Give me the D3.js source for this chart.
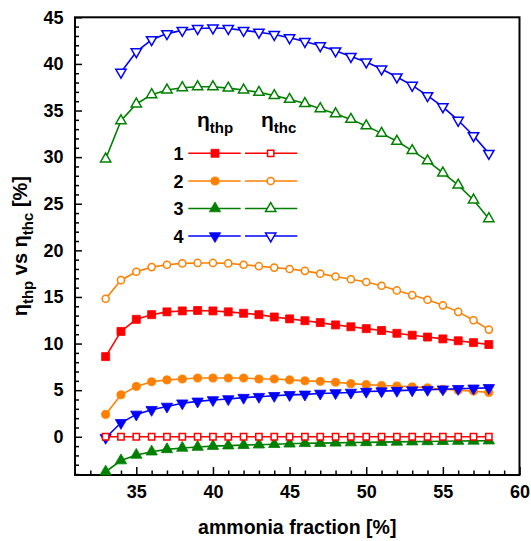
<!DOCTYPE html>
<html>
<head>
<meta charset="utf-8">
<script src="https://cdn.jsdelivr.net/npm/d3@7"></script>
<style>
  html, body { margin: 0; padding: 0; background: #fff; }
  svg text { font-family: "Liberation Sans", Arial, sans-serif; font-weight: bold; fill: #000; }
</style>
</head>
<body>
<svg id="chart" width="531" height="541"></svg>
<script>
// Ammonia fraction [%]
const fraction = [33,34,35,36,37,38,39,40,41,42,43,44,45,46,47,48,49,50,51,52,53,54,55,56,57,58];

// eta_thp series (filled markers)
const thp1 = [8.6,11.3,12.6,13.1,13.4,13.5,13.55,13.5,13.4,13.25,13.1,12.85,12.65,12.45,12.25,12.0,11.8,11.6,11.4,11.1,10.9,10.7,10.5,10.3,10.1,9.9];
const thp2 = [2.4,4.5,5.4,5.9,6.1,6.2,6.3,6.3,6.3,6.3,6.2,6.2,6.1,6.0,5.95,5.85,5.7,5.6,5.5,5.45,5.35,5.25,5.1,5.0,4.9,4.75];
const thp3 = [-3.75,-2.55,-1.95,-1.6,-1.35,-1.2,-1.1,-1.0,-0.95,-0.9,-0.85,-0.8,-0.75,-0.7,-0.68,-0.65,-0.62,-0.6,-0.57,-0.55,-0.52,-0.5,-0.48,-0.46,-0.44,-0.42];
const thp4 = [-0.1,1.5,2.4,2.9,3.25,3.6,3.8,3.95,4.05,4.2,4.3,4.4,4.5,4.55,4.65,4.7,4.75,4.85,4.9,4.95,5.0,5.05,5.1,5.15,5.2,5.25];

// eta_thc series (open markers); series 4 starts at 34 %
const thc1 = [0,0,0,0,0,0,0,0,0,0,0,0,0,0,0,0,0,0,0,0,0,0,0,0,0,0];
const thc2 = [14.8,16.8,17.7,18.2,18.45,18.6,18.65,18.65,18.6,18.45,18.3,18.15,18.0,17.8,17.5,17.2,16.9,16.6,16.2,15.7,15.2,14.7,14.1,13.4,12.5,11.5];
const thc3 = [29.8,33.9,35.7,36.7,37.2,37.45,37.55,37.55,37.4,37.2,36.95,36.6,36.2,35.75,35.2,34.65,34.05,33.35,32.55,31.7,30.7,29.6,28.3,27.0,25.4,23.4];
const thc4 = [null,39.1,41.3,42.6,43.25,43.6,43.8,43.85,43.8,43.6,43.4,43.15,42.8,42.4,41.95,41.4,40.8,40.2,39.45,38.6,37.7,36.6,35.4,33.95,32.3,30.4];

const seriesNames = ["1","2","3","4"];
const colors = ["#ff0000","#ff8000","#008000","#0000ff"];
const shapes = ["square","circle","triangle","down"];

const xTicks = [35,40,45,50,55,60];
const yTicks = [0,5,10,15,20,25,30,35,40,45];

const svg = d3.select("#chart");
const plotL = 75, plotR = 519.5, plotT = 17.3, plotB = 475;

const x = d3.scaleLinear().domain([31, 60]).range([plotL, plotR]);
const y = d3.scaleLinear().domain([-4.1, 45]).range([plotB, plotT]);

// minor ticks (every 1 unit) pointing inward
const minorX = d3.range(32, 60, 1).filter(v => v % 5 !== 0);
const minorY = d3.range(-4, 45, 1).filter(v => v % 5 !== 0);

svg.append("g").attr("transform", `translate(0,${plotB})`)
  .call(d3.axisBottom(x).tickValues(minorX).tickSize(-4.5).tickFormat(""))
  .call(g => g.select(".domain").remove())
  .selectAll("line").attr("stroke", "#000").attr("stroke-width", 1.5);

svg.append("g").attr("transform", `translate(${plotL},0)`)
  .call(d3.axisLeft(y).tickValues(minorY).tickSize(-4).tickFormat(""))
  .call(g => g.select(".domain").remove())
  .selectAll("line").attr("stroke", "#000").attr("stroke-width", 1.5);

const xAxis = svg.append("g").attr("transform", `translate(0,${plotB})`)
  .call(d3.axisBottom(x).tickValues(xTicks).tickSize(-8).tickPadding(10));
xAxis.select(".domain").remove();
xAxis.selectAll("line").attr("stroke", "#000").attr("stroke-width", 1.5);
xAxis.selectAll("text").attr("font-size", 18).attr("font-family", null);

const yAxis = svg.append("g").attr("transform", `translate(${plotL},0)`)
  .call(d3.axisLeft(y).tickValues(yTicks).tickSize(-7).tickPadding(11.5));
yAxis.select(".domain").remove();
yAxis.selectAll("line").attr("stroke", "#000").attr("stroke-width", 1.5);
yAxis.selectAll("text").attr("font-size", 18).attr("font-family", null);

// plot frame
svg.append("rect")
  .attr("x", plotL).attr("y", plotT)
  .attr("width", plotR - plotL).attr("height", plotB - plotT)
  .attr("fill", "none").attr("stroke", "#000").attr("stroke-width", 2);

function symbolFor(shape) {
  if (shape === "square") return d3.symbolSquare;
  if (shape === "circle") return d3.symbolCircle;
  return d3.symbolTriangle;
}
function drawMarker(g, shape, color, filled, cx, cy) {
  const sizeFilled = { square: 64, circle: 52, triangle: 56, down: 56 };
  const sizeOpen = { square: 40, circle: 40, triangle: 46, down: 46 };
  const size = filled ? sizeFilled[shape] : sizeOpen[shape];
  const rot = shape === "down" ? " rotate(180)" : "";
  g.append("path")
    .attr("d", d3.symbol().type(symbolFor(shape)).size(size)())
    .attr("transform", `translate(${cx},${cy})${rot}`)
    .attr("fill", filled ? color : "#fff")
    .attr("stroke", color)
    .attr("stroke-width", filled ? 0.8 : 1.5);
}

const line = d3.line()
  .defined(d => d[1] !== null)
  .x(d => x(d[0])).y(d => y(d[1]));

function drawSeries(values, idx, filled) {
  const pts = fraction.map((f, i) => [f, values[i]]);
  const g = svg.append("g");
  g.append("path").datum(pts)
    .attr("d", line)
    .attr("fill", "none")
    .attr("stroke", colors[idx])
    .attr("stroke-width", 1.6);
  pts.filter(d => d[1] !== null).forEach(d =>
    drawMarker(g, shapes[idx], colors[idx], filled, x(d[0]), y(d[1])));
}

drawSeries(thc4, 3, false);
drawSeries(thc3, 2, false);
drawSeries(thc2, 1, false);
drawSeries(thp1, 0, true);
drawSeries(thp3, 2, true);
drawSeries(thp2, 1, true);
drawSeries(thp4, 3, true);
drawSeries(thc1, 0, false);

// legend
const legend = svg.append("g");
const rowY = [153.3, 181, 208.5, 236];
const head1 = legend.append("text").attr("x", 197).attr("y", 127).attr("font-size", 21);
head1.append("tspan").text("η");
head1.append("tspan").attr("font-size", 15).attr("dy", 6).text("thp");
const head2 = legend.append("text").attr("x", 261).attr("y", 127).attr("font-size", 21);
head2.append("tspan").text("η");
head2.append("tspan").attr("font-size", 15).attr("dy", 6).text("thc");

seriesNames.forEach((name, i) => {
  const cy = rowY[i];
  legend.append("text").attr("x", 183.5).attr("y", cy + 6.5)
    .attr("text-anchor", "end").attr("font-size", 18).text(name);
  [[188.3, 240.7, 215, true], [245, 297.3, 270.7, false]].forEach(([x0, x1, mx, filled]) => {
    legend.append("line").attr("x1", x0).attr("x2", x1).attr("y1", cy).attr("y2", cy)
      .attr("stroke", colors[i]).attr("stroke-width", 1.6);
    drawMarker(legend, shapes[i], colors[i], filled, mx, cy);
  });
});

// axis titles
svg.append("text")
  .attr("x", (plotL + plotR) / 2).attr("y", 534)
  .attr("text-anchor", "middle").attr("font-size", 19.5)
  .text("ammonia fraction [%]");

const yt = svg.append("text")
  .attr("transform", `translate(27,${(plotT + plotB) / 2}) rotate(-90)`)
  .attr("text-anchor", "middle").attr("font-size", 20);
yt.append("tspan").text("η");
yt.append("tspan").attr("font-size", 15).attr("dy", 6).text("thp");
yt.append("tspan").attr("dy", -6).text(" vs η");
yt.append("tspan").attr("font-size", 15).attr("dy", 6).text("thc");
yt.append("tspan").attr("dy", -6).text(" [%]");
</script>
</body>
</html>
